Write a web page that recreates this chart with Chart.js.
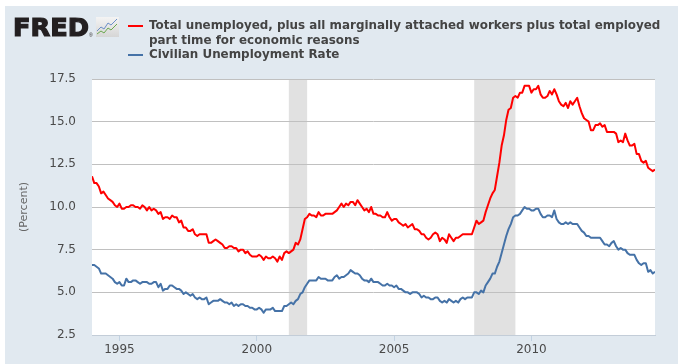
<!DOCTYPE html>
<html>
<head>
<meta charset="utf-8">
<title>FRED - U-6 and Civilian Unemployment Rate</title>
<script src="https://cdn.jsdelivr.net/npm/chart.js@4/dist/chart.umd.min.js"></script>
<style>
  html, body { margin: 0; padding: 0; background: #ffffff; }
  #chart { display: block; }
</style>
</head>
<body>
<canvas id="chart" width="684" height="364"></canvas>
<script>
'use strict'

// monthly series, starting Jan 1994
var startYear = 1994;

// Total unemployed + marginally attached + part time for economic reasons (U-6)
var u6 = [
	11.8, 11.4, 11.4, 11.2, 10.8, 10.9, 10.7, 10.5, 10.4, 10.3, 10.1, 10.0, // 1994
	10.2, 9.9, 9.9, 10.0, 10.0, 10.1, 10.1, 10.0, 10.0, 9.9, 10.1, 10.0,     // 1995
	9.8, 10.0, 9.8, 9.9, 9.8, 9.6, 9.7, 9.3, 9.4, 9.4, 9.3, 9.5,             // 1996
	9.4, 9.4, 9.1, 9.2, 8.8, 8.8, 8.6, 8.6, 8.7, 8.4, 8.3, 8.4,              // 1997
	8.4, 8.4, 8.4, 7.9, 7.9, 8.0, 8.1, 8.0, 7.9, 7.8, 7.6, 7.6,              // 1998
	7.7, 7.7, 7.6, 7.6, 7.4, 7.5, 7.5, 7.3, 7.4, 7.2, 7.1, 7.1,              // 1999
	7.1, 7.2, 7.1, 6.9, 7.1, 7.0, 7.0, 7.1, 7.0, 6.8, 7.1, 6.9,              // 2000
	7.3, 7.4, 7.3, 7.4, 7.5, 7.9, 7.8, 8.1, 8.7, 9.3, 9.4, 9.6,              // 2001
	9.5, 9.5, 9.4, 9.7, 9.5, 9.5, 9.6, 9.6, 9.6, 9.6, 9.7, 9.8,              // 2002
	10.0, 10.2, 10.0, 10.2, 10.1, 10.3, 10.3, 10.1, 10.4, 10.2, 10.0, 9.8,   // 2003
	9.9, 9.7, 10.0, 9.6, 9.6, 9.5, 9.5, 9.4, 9.4, 9.7, 9.4, 9.2,             // 2004
	9.3, 9.3, 9.1, 9.0, 8.9, 9.0, 8.8, 8.9, 9.0, 8.7, 8.7, 8.6,              // 2005
	8.4, 8.4, 8.2, 8.1, 8.2, 8.4, 8.5, 8.4, 8.0, 8.2, 8.1, 7.9,              // 2006
	8.4, 8.2, 8.0, 8.2, 8.2, 8.3, 8.4, 8.4, 8.4, 8.4, 8.4, 8.8,              // 2007
	9.2, 9.0, 9.1, 9.2, 9.7, 10.1, 10.5, 10.8, 11.0, 11.8, 12.6, 13.6,       // 2008
	14.2, 15.1, 15.7, 15.8, 16.4, 16.5, 16.4, 16.7, 16.7, 17.1, 17.1, 17.1,  // 2009
	16.7, 16.9, 16.9, 17.1, 16.6, 16.4, 16.4, 16.5, 16.8, 16.6, 16.9, 16.6,  // 2010
	16.2, 16.0, 15.9, 16.1, 15.8, 16.2, 16.0, 16.2, 16.4, 15.9, 15.5, 15.2,  // 2011
	15.1, 15.0, 14.5, 14.5, 14.8, 14.8, 14.9, 14.7, 14.8, 14.4, 14.4, 14.4,  // 2012
	14.4, 14.3, 13.8, 13.9, 13.8, 14.3, 13.9, 13.6, 13.6, 13.7, 13.1, 13.1,  // 2013
	12.7, 12.6, 12.7, 12.3, 12.2, 12.1, 12.2                                 // 2014
];

// Civilian Unemployment Rate
var unrate = [
	6.6, 6.6, 6.5, 6.4, 6.1, 6.1, 6.1, 6.0, 5.9, 5.8, 5.6, 5.5, // 1994
	5.6, 5.4, 5.4, 5.8, 5.6, 5.6, 5.7, 5.7, 5.6, 5.5, 5.6, 5.6, // 1995
	5.6, 5.5, 5.5, 5.6, 5.6, 5.3, 5.5, 5.1, 5.2, 5.2, 5.4, 5.4, // 1996
	5.3, 5.2, 5.2, 5.1, 4.9, 5.0, 4.9, 4.8, 4.9, 4.7, 4.6, 4.7, // 1997
	4.6, 4.6, 4.7, 4.3, 4.4, 4.5, 4.5, 4.5, 4.6, 4.5, 4.4, 4.4, // 1998
	4.3, 4.4, 4.2, 4.3, 4.2, 4.3, 4.3, 4.2, 4.2, 4.1, 4.1, 4.0, // 1999
	4.0, 4.1, 4.0, 3.8, 4.0, 4.0, 4.0, 4.1, 3.9, 3.9, 3.9, 3.9, // 2000
	4.2, 4.2, 4.3, 4.4, 4.3, 4.5, 4.6, 4.9, 5.0, 5.3, 5.5, 5.7, // 2001
	5.7, 5.7, 5.7, 5.9, 5.8, 5.8, 5.8, 5.7, 5.7, 5.7, 5.9, 6.0, // 2002
	5.8, 5.9, 5.9, 6.0, 6.1, 6.3, 6.2, 6.1, 6.1, 6.0, 5.8, 5.7, // 2003
	5.7, 5.6, 5.8, 5.6, 5.6, 5.6, 5.5, 5.4, 5.4, 5.5, 5.4, 5.4, // 2004
	5.3, 5.4, 5.2, 5.2, 5.1, 5.0, 5.0, 4.9, 5.0, 5.0, 5.0, 4.9, // 2005
	4.7, 4.8, 4.7, 4.7, 4.6, 4.6, 4.7, 4.7, 4.5, 4.4, 4.5, 4.4, // 2006
	4.6, 4.5, 4.4, 4.5, 4.4, 4.6, 4.7, 4.6, 4.7, 4.7, 4.7, 5.0, // 2007
	5.0, 4.9, 5.1, 5.0, 5.4, 5.6, 5.8, 6.1, 6.1, 6.5, 6.8, 7.3, // 2008
	7.8, 8.3, 8.7, 9.0, 9.4, 9.5, 9.5, 9.6, 9.8, 10.0, 9.9, 9.9, // 2009
	9.8, 9.8, 9.9, 9.9, 9.6, 9.4, 9.4, 9.5, 9.5, 9.4, 9.8, 9.3, // 2010
	9.1, 9.0, 9.0, 9.1, 9.0, 9.1, 9.0, 9.0, 9.0, 8.8, 8.6, 8.5, // 2011
	8.3, 8.3, 8.2, 8.2, 8.2, 8.2, 8.2, 8.0, 7.8, 7.8, 7.7, 7.9, // 2012
	8.0, 7.7, 7.5, 7.6, 7.5, 7.5, 7.3, 7.2, 7.2, 7.2, 6.9, 6.7, // 2013
	6.6, 6.7, 6.7, 6.2, 6.3, 6.1, 6.2                           // 2014
];

// NBER recessions (decimal years)
var recessionStart = [2001 + 2 / 12, 2007 + 11 / 12];
var recessionEnd = [2001 + 10 / 12, 2009 + 5 / 12];

var yTicks = [2.5, 5.0, 7.5, 10.0, 12.5, 15.0, 17.5];
var xTicks = [1995, 2000, 2005, 2010];

var seriesNames = [
	['Total unemployed, plus all marginally attached workers plus total employed', 'part time for economic reasons'],
	['Civilian Unemployment Rate']
];
var seriesColors = ['#ff0000', '#4572a7'];

function toPoints (vals) {
	return vals.map(function (v, i) { return {x: startYear + i / 12, y: v}; });
}

var BG = '#e1e9f0';

// background, white plot area and recession bars
var backPlugin = {
	id: 'fredBack',
	beforeDraw: function (chart) {
		var ctx = chart.ctx, a = chart.chartArea, xs = chart.scales.x;
		ctx.save();
		ctx.fillStyle = '#ffffff';
		ctx.fillRect(0, 0, chart.width, chart.height);
		ctx.fillStyle = BG;
		ctx.fillRect(5, 6, 673, 358);
		ctx.fillStyle = '#ffffff';
		ctx.fillRect(a.left, a.top, a.right - a.left, a.bottom - a.top);
		ctx.fillStyle = '#e1e1e1';
		recessionStart.forEach(function (s, i) {
			var x0 = xs.getPixelForValue(s), x1 = xs.getPixelForValue(recessionEnd[i]);
			ctx.fillRect(x0, a.top, x1 - x0, a.bottom - a.top);
		});
		ctx.restore();
	}
};

// FRED logo + legend header
var headerPlugin = {
	id: 'fredHeader',
	afterDraw: function (chart) {
		var ctx = chart.ctx;
		ctx.save();

		// logo text
		ctx.fillStyle = '#231f20';
		ctx.strokeStyle = '#231f20';
		ctx.font = 'bold 25px "DejaVu Sans"';
		ctx.textBaseline = 'alphabetic';
		var w = ctx.measureText('FRED').width;
		ctx.save();
		ctx.translate(13, 36);
		ctx.scale(76 / w, 1);
		ctx.lineWidth = 1.2;
		ctx.fillText('FRED', 0, 0);
		ctx.strokeText('FRED', 0, 0);
		ctx.restore();
		ctx.font = '5px "Liberation Sans"';
		ctx.fillText('®', 89, 37);

		// small logo icon
		var g = ctx.createLinearGradient(0, 17, 0, 37);
		g.addColorStop(0, '#f4f4f4');
		g.addColorStop(1, '#d6d6d6');
		ctx.fillStyle = g;
		ctx.fillRect(96, 17, 23, 20);
		ctx.lineWidth = 1;
		ctx.strokeStyle = '#6b8fc7';
		ctx.beginPath();
		ctx.moveTo(97, 31); ctx.lineTo(101, 27); ctx.lineTo(104, 29); ctx.lineTo(108, 23); ctx.lineTo(111, 25); ctx.lineTo(117, 19);
		ctx.stroke();
		ctx.strokeStyle = '#6aa84f';
		ctx.beginPath();
		ctx.moveTo(97, 34); ctx.lineTo(101, 31); ctx.lineTo(104, 33); ctx.lineTo(108, 28); ctx.lineTo(111, 30); ctx.lineTo(117, 24);
		ctx.stroke();

		// legend
		ctx.fillStyle = '#444444';
		ctx.font = 'bold 12px "DejaVu Sans"';
		var lw = ctx.measureText(seriesNames[0][0]).width;
		var size = 12 * 512 / lw;
		ctx.font = 'bold ' + size.toFixed(2) + 'px "DejaVu Sans"';
		var baselines = [[29, 43.5], [58]];
		var dashY = [25, 54];
		seriesNames.forEach(function (lines, i) {
			ctx.fillStyle = seriesColors[i];
			ctx.fillRect(128, dashY[i], 15, 2);
			ctx.fillStyle = '#444444';
			lines.forEach(function (t, j) {
				ctx.fillText(t, 149, baselines[i][j]);
			});
		});
		ctx.restore();
	}
};

new Chart(document.getElementById('chart'), {
	type: 'line',
	data: {
		datasets: [
			{
				label: seriesNames[0].join(' '),
				data: toPoints(u6),
				borderColor: seriesColors[0],
				borderWidth: 2,
				pointRadius: 0,
				tension: 0,
				borderJoinStyle: 'round'
			},
			{
				label: seriesNames[1][0],
				data: toPoints(unrate),
				borderColor: seriesColors[1],
				borderWidth: 2,
				pointRadius: 0,
				tension: 0,
				borderJoinStyle: 'round'
			}
		]
	},
	options: {
		responsive: false,
		animation: false,
		layout: { padding: { top: 79, right: 29, left: 0, bottom: 0 } },
		plugins: {
			legend: { display: false },
			tooltip: { enabled: false }
		},
		scales: {
			x: {
				type: 'linear',
				min: 1994,
				max: 2014.5,
				afterFit: function (scale) { scale.height = 29; },
				afterBuildTicks: function (scale) {
					scale.ticks = xTicks.map(function (v) { return {value: v}; });
				},
				grid: {
					display: true,
					drawOnChartArea: false,
					drawTicks: true,
					tickLength: 6,
					color: '#c2d2e2'
				},
				border: { display: true, color: '#c3cdd8', width: 1 },
				ticks: {
					padding: 2,
					maxRotation: 0,
					color: '#4a4a4a',
					font: { family: '"DejaVu Sans"', size: 12 },
					callback: function (v) { return String(v); }
				}
			},
			y: {
				min: 2.5,
				max: 17.5,
				afterFit: function (scale) { scale.width = 92; },
				afterBuildTicks: function (scale) {
					scale.ticks = yTicks.map(function (v) { return {value: v}; });
				},
				grid: {
					drawTicks: false,
					color: function (c) { return c.tick && c.tick.value === 2.5 ? '#c3cdd8' : '#c0c0c0'; }
				},
				border: { display: false },
				title: {
					display: true,
					text: '(Percent)',
					color: '#666666',
					font: { family: '"DejaVu Sans"', size: 11 },
					padding: { top: 18, bottom: 0 }
				},
				ticks: {
					padding: 16,
					color: '#4a4a4a',
					font: { family: '"DejaVu Sans"', size: 12 },
					callback: function (v) { return Number(v).toFixed(1); }
				}
			}
		}
	},
	plugins: [backPlugin, headerPlugin]
});
</script>
</body>
</html>
